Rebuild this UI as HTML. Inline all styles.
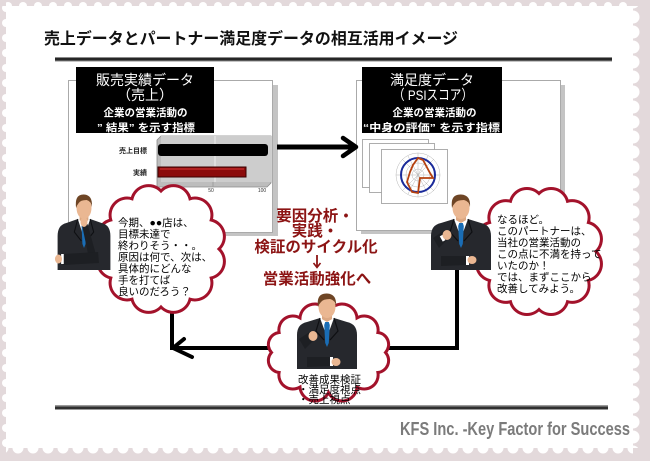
<!DOCTYPE html>
<html><head><meta charset="utf-8"><style>
html,body{margin:0;padding:0;background:#fff;}
svg{display:block;}
text{font-family:"Liberation Sans","Noto Sans CJK JP",sans-serif;}
</style></head><body>
<svg width="650" height="461" viewBox="0 0 650 461" xmlns="http://www.w3.org/2000/svg">
<defs>
<pattern id="pt" x="0" y="0" width="15" height="12" patternUnits="userSpaceOnUse"><circle cx="8" cy="6" r="4" fill="#fff"/></pattern>
<pattern id="pl" x="0" y="0" width="12" height="15" patternUnits="userSpaceOnUse"><circle cx="6" cy="8" r="4" fill="#fff"/></pattern>
<pattern id="pr" x="626" y="9.5" width="14" height="15" patternUnits="userSpaceOnUse"><circle cx="7" cy="7.5" r="6.5" fill="#fff"/></pattern>
<pattern id="pb" x="10.5" y="441" width="15" height="14" patternUnits="userSpaceOnUse"><circle cx="7.5" cy="7" r="5.5" fill="#fff"/></pattern>
<g id="man">
 <rect x="-5" y="6" width="10" height="9" fill="#dca883"/>
 <path d="M-30 62 L-30 28 Q-30 17 -20 15 L-7 11 L0 18 L7 11 L20 15 Q30 17 30 28 L30 62 Z" fill="#26282d"/>
 <path d="M-7 11 L0 30 L7 11 L0 15 Z" fill="#fff"/>
 <path d="M-1.8 15 L1.8 15 L2.8 18 L1.8 36 L0 40 L-1.8 36 L-2.8 18 Z" fill="#1a6db5"/>
 <path d="M-7 11 L-11 24 L-3 33 M7 11 L11 24 L3 33" stroke="#0e0f12" fill="none" stroke-width="1.2"/>
 <ellipse cx="0" cy="0" rx="8.5" ry="11" fill="#eab792"/>
 <path d="M-9 0 Q-11 -14 0 -13.5 Q10 -13 9 -1 Q8 -7 3 -8 Q-4 -8 -6 -5 Q-8 -3 -9 0 Z" fill="#6e4525"/>
</g>
</defs>

<!-- stamp border -->
<rect width="650" height="461" fill="#e3d9db"/>
<rect x="6" y="6" width="627" height="442" fill="#fff"/>
<rect x="6" y="0" width="627" height="10" fill="url(#pt)"/>
<rect x="0" y="6" width="10" height="442" fill="url(#pl)"/>
<rect x="626" y="6" width="14" height="442" fill="url(#pr)"/>
<rect x="6" y="441" width="627" height="14" fill="url(#pb)"/>

<!-- title -->
<text x="44" y="44" font-size="16" font-weight="bold" fill="#111" textLength="414" lengthAdjust="spacingAndGlyphs">売上データとパートナー満足度データの相互活用イメージ</text>
<rect x="55" y="57" width="557" height="4.5" fill="#8a8a8a"/>
<rect x="55" y="58" width="557" height="2.5" fill="#262626"/>

<!-- left panel -->
<rect x="273" y="85" width="5" height="151" fill="#c4c4c4"/>
<rect x="73" y="232" width="205" height="4" fill="#c4c4c4"/>
<rect x="68.5" y="80.5" width="204" height="152" fill="#fff" stroke="#aaa" stroke-width="1"/>
<rect x="76" y="67" width="138" height="66" fill="#000"/>
<text x="145" y="85" font-size="14" fill="#fff" text-anchor="middle">販売実績データ</text>
<text x="145" y="100" font-size="14" fill="#fff" text-anchor="middle">（売上）</text>
<text x="145.5" y="116" font-size="10.5" font-weight="bold" fill="#fff" text-anchor="middle">企業の営業活動の</text>
<text x="97" y="131" font-size="10.5" font-weight="bold" fill="#fff" textLength="98" lengthAdjust="spacingAndGlyphs">” 結果” を示す指標</text>

<!-- bar chart -->
<path d="M157 140 L161 136 L271 136 L271 183 L267 187 L157 187 Z" fill="#bdbdbd" stroke="#8a8a8a" stroke-width="0.8"/>
<rect x="161" y="136" width="110" height="46" fill="#cdcdcd"/>
<line x1="215" y1="136" x2="215" y2="182" stroke="#eee" stroke-width="1"/>
<line x1="213" y1="182" x2="213" y2="187" stroke="#999" stroke-width="0.8"/>
<rect x="158" y="144" width="110" height="12" rx="3" fill="#000"/>
<rect x="158" y="167" width="88" height="10" fill="#8b0b0b" stroke="#3a0000" stroke-width="1"/>
<rect x="160" y="168" width="84" height="2" fill="#b02020"/>
<text x="147" y="153" font-size="7" font-weight="bold" fill="#222" text-anchor="end">売上目標</text>
<text x="147" y="175" font-size="7" font-weight="bold" fill="#222" text-anchor="end">実績</text>
<text x="158" y="192" font-size="5" fill="#333" text-anchor="middle">0</text>
<text x="211" y="192" font-size="5" fill="#333" text-anchor="middle">50</text>
<text x="262" y="192" font-size="5" fill="#333" text-anchor="middle">100</text>

<!-- right panel -->
<rect x="560" y="85" width="5" height="149" fill="#c4c4c4"/>
<rect x="361" y="230" width="204" height="4" fill="#c4c4c4"/>
<rect x="356.5" y="80.5" width="204" height="150" fill="#fff" stroke="#aaa" stroke-width="1"/>
<rect x="362" y="67" width="140" height="66" fill="#000"/>
<text x="432" y="85" font-size="14" fill="#fff" text-anchor="middle">満足度データ</text>
<text x="393" y="100" font-size="14" fill="#fff" textLength="80" lengthAdjust="spacingAndGlyphs">（ PSIスコア）</text>
<text x="434.5" y="116" font-size="10.5" font-weight="bold" fill="#fff" text-anchor="middle">企業の営業活動の</text>
<text x="363" y="131" font-size="10.5" font-weight="bold" fill="#fff" textLength="137" lengthAdjust="spacingAndGlyphs">“中身の評価” を示す指標</text>

<!-- radar sheets -->
<rect x="362.5" y="139.5" width="66" height="48" fill="#fff" stroke="#999" stroke-width="0.8"/>
<rect x="369.5" y="143.5" width="65" height="49" fill="#fff" stroke="#999" stroke-width="0.8"/>
<rect x="381.5" y="149.5" width="66" height="54" fill="#fff" stroke="#999" stroke-width="0.8"/>
<g stroke="#b5b5b5" stroke-width="0.5" fill="none">
<circle cx="418" cy="175" r="6"/><circle cx="418" cy="175" r="12"/><circle cx="418" cy="175" r="22"/>
<path d="M418 153 L418 197 M396 175 L440 175 M402.4 159.4 L433.6 190.6 M433.6 159.4 L402.4 190.6 M408 156 L428 194 M428 156 L408 194"/>
</g>
<circle cx="418" cy="175" r="17" fill="none" stroke="#1a2a9a" stroke-width="2"/>
<polygon points="418,158 423,160 430,173 433,178 420,178 418,193 412,192 407,182 410,172 413,165" fill="none" stroke="#b5410f" stroke-width="1.8"/>

<!-- arrow between panels -->
<line x1="277" y1="147" x2="353" y2="147" stroke="#000" stroke-width="5"/>
<polyline points="343,138 356,147 343,156" fill="none" stroke="#000" stroke-width="4.5" stroke-linecap="round" stroke-linejoin="round"/>

<!-- connectors -->
<line x1="172" y1="300" x2="172" y2="350" stroke="#000" stroke-width="4"/>
<line x1="170" y1="348" x2="459" y2="348" stroke="#000" stroke-width="4"/>
<line x1="457" y1="262" x2="457" y2="350" stroke="#000" stroke-width="4"/>
<polyline points="184,339 173,348 192,357" fill="none" stroke="#000" stroke-width="4" stroke-linecap="round" stroke-linejoin="round"/>

<!-- clouds -->
<path d="M219,249 A17,17 0 0 1 211.2,278 A17,17 0 0 1 190,299.2 A17,17 0 0 1 161,307 A17,17 0 0 1 132,299.2 A17,17 0 0 1 110.8,278 A17,17 0 0 1 103,249 A17,17 0 0 1 110.8,220 A17,17 0 0 1 132,198.8 A17,17 0 0 1 161,191 A17,17 0 0 1 190,198.8 A17,17 0 0 1 211.2,220 A17,17 0 0 1 219,249 Z" fill="#fff" stroke="#a3122b" stroke-width="3"/>
<path d="M596,251.5 A17,17 0 0 1 588.4,280.5 A17,17 0 0 1 567.5,301.7 A17,17 0 0 1 539,309.5 A17,17 0 0 1 510.5,301.7 A17,17 0 0 1 489.6,280.5 A17,17 0 0 1 482,251.5 A17,17 0 0 1 489.6,222.5 A17,17 0 0 1 510.5,201.3 A17,17 0 0 1 539,193.5 A17,17 0 0 1 567.5,201.3 A17,17 0 0 1 588.4,222.5 A17,17 0 0 1 596,251.5 Z" fill="#fff" stroke="#a3122b" stroke-width="3"/>
<path d="M385.5,352.5 A12,12 0 0 1 377.9,372.5 A14,14 0 0 1 357,387.1 A15,15 0 0 1 328.5,392.5 A15,15 0 0 1 300,387.1 A14,14 0 0 1 279.1,372.5 A12,12 0 0 1 271.5,352.5 A12,12 0 0 1 279.1,332.5 A14,14 0 0 1 300,317.9 A15,15 0 0 1 328.5,312.5 A15,15 0 0 1 357,317.9 A14,14 0 0 1 377.9,332.5 A12,12 0 0 1 385.5,352.5 Z" fill="#fff" stroke="#a3122b" stroke-width="3"/>

<!-- persons -->
<g transform="translate(84,208) scale(0.88,1)">
 <use href="#man"/>
 <path d="M6 52 L-2 18 L4 16 L14 48 Z" fill="#1d1f23"/>
 <ellipse cx="0" cy="14" rx="4" ry="5" fill="#eab792"/>
 <path d="M-24 46 L16 44 L17 55 L-24 57 Z" fill="#1d1f23"/>
 <rect x="-26" y="46" width="3" height="10" fill="#fff"/>
 <ellipse cx="-29" cy="51" rx="4" ry="4.5" fill="#eab792"/>
</g>
<g transform="translate(461,208)">
 <use href="#man"/>
 <path d="M-28 30 L-16 22 L-12 30 L-22 40 Z" fill="#1d1f23"/>
 <rect x="-20" y="27" width="3" height="6" fill="#fff" transform="rotate(-30 -18 30)"/>
 <ellipse cx="-14" cy="27" rx="4.5" ry="5" fill="#eab792"/>
 <path d="M-20 48 L6 48 L6 57 L-20 58 Z" fill="#1d1f23"/>
 <rect x="5" y="48" width="3" height="9" fill="#fff"/>
 <ellipse cx="11" cy="52" rx="4.5" ry="4" fill="#eab792"/>
</g>
<g transform="translate(327,307)">
 <use href="#man"/>
 <path d="M-28 32 L-16 24 L-12 32 L-22 42 Z" fill="#1d1f23"/>
 <ellipse cx="-14" cy="29" rx="4.5" ry="5" fill="#eab792"/>
 <path d="M-20 50 L4 50 L4 59 L-20 60 Z" fill="#1d1f23"/>
 <rect x="3" y="50" width="3" height="9" fill="#fff"/>
 <ellipse cx="9" cy="55" rx="4.5" ry="4" fill="#eab792"/>
</g>

<!-- cloud texts -->
<g font-size="10.5" fill="#000">
<text x="118" y="226">今期、●●店は、</text>
<text x="118" y="237.5">目標未達で</text>
<text x="118" y="249">終わりそう・・。</text>
<text x="118" y="260.5">原因は何で、次は、</text>
<text x="118" y="272">具体的にどんな</text>
<text x="118" y="283.5">手を打てば</text>
<text x="118" y="295">良いのだろう？</text>

<text x="497" y="223">なるほど。</text>
<text x="497" y="234.5">このパートナーは、</text>
<text x="497" y="246">当社の営業活動の</text>
<text x="497" y="257.5">この点に不満を持って</text>
<text x="497" y="269">いたのか！</text>
<text x="497" y="280.5">では、まずここから</text>
<text x="497" y="292">改善してみよう。</text>

<text x="298" y="383">改善成果検証</text>
<text x="298" y="393">・満足度視点</text>
<text x="298" y="403">・売上視点</text>
</g>

<!-- center red text -->
<g font-size="15.5" font-weight="bold" fill="#8c1414" text-anchor="middle">
<text x="315" y="221">要因分析・</text>
<text x="315" y="236">実践・</text>
<text x="316" y="252">検証のサイクル化</text>
<text x="317" y="284">営業活動強化へ</text>
</g>
<line x1="317" y1="255" x2="317" y2="267" stroke="#8c1414" stroke-width="1.8"/>
<polyline points="313.5,263 317,267.5 320.5,263" fill="none" stroke="#8c1414" stroke-width="1.6"/>

<!-- bottom rule & footer -->
<rect x="55" y="405" width="553" height="5" fill="#9a9a9a"/>
<rect x="55" y="406.5" width="553" height="2.5" fill="#303030"/>
<text x="400" y="435" font-family="Liberation Sans Narrow, Liberation Sans, sans-serif" font-weight="bold" font-size="18" fill="#7b7b7b" textLength="230" lengthAdjust="spacingAndGlyphs">KFS Inc. -Key Factor for Success</text>
</svg>
</body></html>
